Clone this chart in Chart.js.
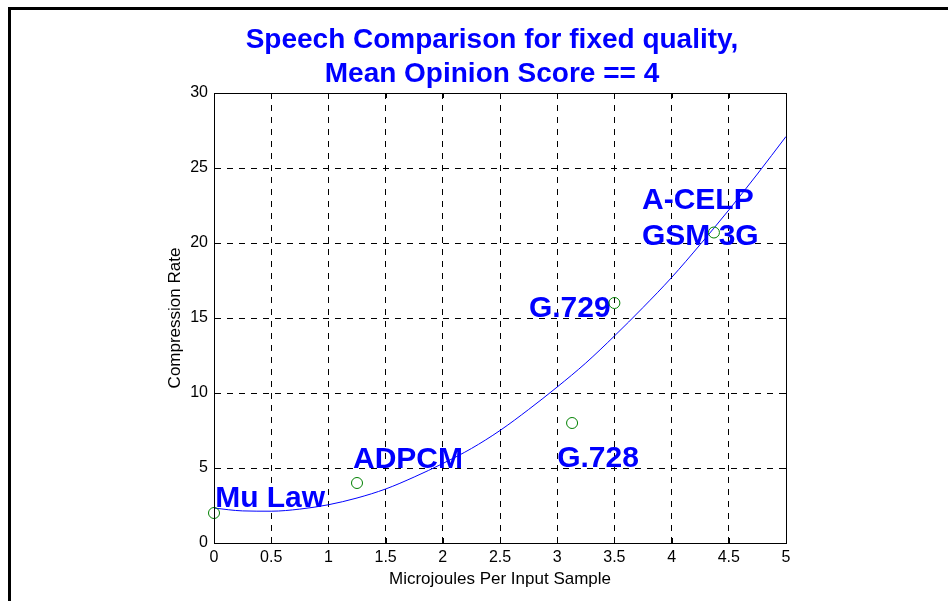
<!DOCTYPE html>
<html>
<head>
<meta charset="utf-8">
<script src="https://cdn.jsdelivr.net/npm/chart.js@4.4.1/dist/chart.umd.min.js"></script>
<style>
    html, body { margin: 0; padding: 0; background: #fff; overflow: hidden; }
    #frame {
        position: absolute; left: 8px; top: 7px; width: 2000px; height: 2000px;
        border-top: 3px solid #000; border-left: 3px solid #000;
    }
    #chart { position: absolute; left: 0; top: 0; }
</style>
</head>
<body>
<div id="frame"></div>
<canvas id="chart" width="948" height="601"></canvas>
<script>
// measured codec points (Microjoules per sample, compression rate)
const codecNames = ['Mu Law', 'ADPCM', 'G.728', 'G.729', 'A-CELP GSM 3G'];
const codecX = [0, 1.25, 3.13, 3.5, 4.37];
const codecY = [2, 4, 8, 16, 20.7];

// fitted trend curve
const fitX = [0, 0.25, 0.5, 0.75, 1, 1.25, 1.5, 1.75, 2, 2.25, 2.5, 2.75, 3, 3.25, 3.5, 3.75, 4, 4.25, 4.5, 4.75, 5];
const fitY = [2.33, 2.14, 2.12, 2.26, 2.55, 3.0, 3.6, 4.4, 5.3, 6.3, 7.5, 8.9, 10.4, 12.0, 13.8, 15.7, 17.7, 19.9, 22.2, 24.6, 27.1];

const xTickLabels = ['0', '0.5', '1', '1.5', '2', '2.5', '3', '3.5', '4', '4.5', '5'];
const yTickLabels = ['0', '5', '10', '15', '20', '25', '30'];

const titleLines = ['Speech Comparison for fixed quality,', 'Mean Opinion Score == 4'];

// text labels, placed in data units (left edge, baseline)
const labelText = ['Mu Law', 'ADPCM', 'G.728', 'G.729', 'A-CELP', 'GSM 3G'];
const labelX = [0.01, 1.215, 3.0, 2.753, 3.741, 3.741];
const labelY = [2.4, 5.0, 5.05, 15.07, 22.27, 19.87];

const FONT = '"Liberation Sans", Arial, sans-serif';

const matlabLook = {
    id: 'matlabLook',
    beforeDatasetsDraw(chart) {
        const {ctx, scales: {x, y}} = chart;
        ctx.save();
        ctx.fillStyle = '#0000ff';
        ctx.font = 'bold 30px ' + FONT;
        ctx.textAlign = 'left';
        ctx.textBaseline = 'alphabetic';
        labelText.forEach((t, i) => {
            ctx.fillText(t, x.getPixelForValue(labelX[i]), y.getPixelForValue(labelY[i]));
        });
        ctx.restore();
    },
    afterDraw(chart) {
        const {ctx, chartArea: a, scales: {x, y}} = chart;
        ctx.save();
        // box round the axes
        ctx.strokeStyle = '#000';
        ctx.lineWidth = 1;
        ctx.strokeRect(Math.round(a.left) + 0.5, Math.round(a.top) + 0.5,
            Math.round(a.right - a.left), Math.round(a.bottom - a.top));
        // inward tick marks
        const tl = 5;
        ctx.beginPath();
        x.ticks.forEach(t => {
            const px = Math.round(x.getPixelForValue(t.value)) + 0.5;
            ctx.moveTo(px, a.bottom); ctx.lineTo(px, a.bottom - tl);
            ctx.moveTo(px, a.top); ctx.lineTo(px, a.top + tl);
        });
        y.ticks.forEach(t => {
            const py = Math.round(y.getPixelForValue(t.value)) + 0.5;
            ctx.moveTo(a.left, py); ctx.lineTo(a.left + tl, py);
            ctx.moveTo(a.right, py); ctx.lineTo(a.right - tl, py);
        });
        ctx.stroke();
        // title
        ctx.fillStyle = '#0000ff';
        ctx.font = 'bold 28px ' + FONT;
        ctx.textAlign = 'center';
        ctx.textBaseline = 'alphabetic';
        const cx = (a.left + a.right) / 2 - 8;
        ctx.fillText(titleLines[0], cx, 48);
        ctx.fillText(titleLines[1], cx, 82);
        ctx.restore();
    }
};

new Chart(document.getElementById('chart'), {
    type: 'scatter',
    data: {
        datasets: [
            {
                label: 'fit',
                data: fitX.map((v, i) => ({x: v, y: fitY[i]})),
                showLine: true,
                borderColor: '#0000ff',
                borderWidth: 1,
                pointRadius: 0,
                cubicInterpolationMode: 'monotone',
                order: 2
            },
            {
                label: 'codecs',
                data: codecX.map((v, i) => ({x: v, y: codecY[i], name: codecNames[i]})),
                showLine: false,
                clip: false,
                pointStyle: 'circle',
                pointRadius: 5.5,
                borderColor: '#008000',
                borderWidth: 1,
                backgroundColor: 'rgba(0,0,0,0)',
                order: 1
            }
        ]
    },
    options: {
        responsive: false,
        animation: false,
        devicePixelRatio: 1,
        layout: { padding: { left: 0, top: 93, right: 162, bottom: 0 } },
        plugins: {
            legend: { display: false },
            tooltip: { enabled: false }
        },
        scales: {
            x: {
                type: 'linear',
                min: 0,
                max: 5,
                afterFit: s => { s.height = 58; },
                ticks: {
                    stepSize: 0.5,
                    padding: 5,
                    color: '#000',
                    font: { family: FONT, size: 16 },
                    maxRotation: 0,
                    callback: (v, i) => xTickLabels[i]
                },
                grid: { color: '#000', lineWidth: 1, drawTicks: false },
                border: { display: true, color: '#000', width: 1, dash: [6, 6] },
                title: {
                    display: true,
                    text: 'Microjoules Per Input Sample',
                    color: '#000',
                    font: { family: FONT, size: 17 },
                    padding: { top: 0, bottom: 11 }
                }
            },
            y: {
                type: 'linear',
                min: 0,
                max: 30,
                afterFit: s => { s.width = 214; },
                ticks: {
                    stepSize: 5,
                    padding: 6,
                    color: '#000',
                    font: { family: FONT, size: 16 },
                    callback: (v, i) => yTickLabels[i]
                },
                grid: { color: '#000', lineWidth: 1, drawTicks: false },
                border: { display: true, color: '#000', width: 1, dash: [6, 6] },
                title: {
                    display: true,
                    text: 'Compression Rate',
                    color: '#000',
                    font: { family: FONT, size: 17 },
                    padding: { top: 165, bottom: 0 }
                }
            }
        }
    },
    plugins: [matlabLook]
});
</script>
</body>
</html>
